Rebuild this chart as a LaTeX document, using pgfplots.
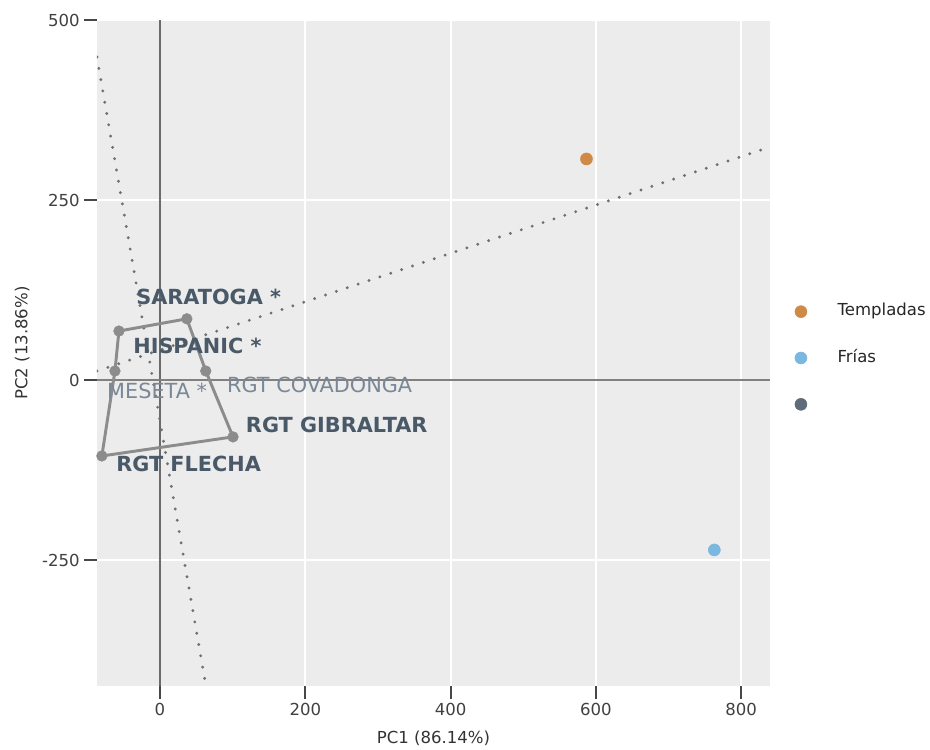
\documentclass[border=0pt]{standalone}
\usepackage{pgfplots}
\pgfplotsset{compat=1.18}
\usepackage{fontspec}
\setmainfont{DejaVu Sans}
\definecolor{bgc}{HTML}{ECECEC}
\definecolor{orangec}{HTML}{D08A48}
\definecolor{bluec}{HTML}{7AB8E0}
\definecolor{hullc}{HTML}{8C8C8C}
\definecolor{darkdot}{HTML}{5F6B78}
\definecolor{lab}{HTML}{4A5968}
\definecolor{lablight}{HTML}{7A8796}
\definecolor{dotc}{HTML}{707070}
\begin{document}
\begin{tikzpicture}
\path[use as bounding box] (-72.75pt,-47.25pt) rectangle (624.75pt,514.5pt);
\begin{axis}[
  at={(0pt,0pt)}, anchor=south west,
  scale only axis, width=504.75pt, height=499.5pt,
  xmin=-86.7, xmax=839.6, ymin=-425, ymax=500,
  axis background/.style={fill=bgc},
  axis line style={draw=none},
  xtick={0,200,400,600,800}, ytick={-250,0,250,500},
  xtick pos=bottom, ytick pos=left,
  tick align=outside, major tick length=9.5pt,
  tick style={draw=black!72, line width=1.5pt},
  grid=major, grid style={white, line width=1.5pt},
  /pgf/number format/assume math mode=true,
  ticklabel style={font=\fontsize{12.4}{14}\selectfont, text=black!75},
  xlabel={PC1 (86.14\%)}, ylabel={PC2 (13.86\%)},
  label style={font=\fontsize{12.4}{14}\selectfont, text=black!80},
  xlabel style={at={(axis description cs:0.5,0)}, anchor=center, yshift=-39pt},
  ylabel style={at={(axis description cs:-0.111,0.515)}, anchor=center},
  legend style={draw=none, fill=none, at={(axis description cs:1,0.4925)}, anchor=west,
    xshift=18.5pt, inner sep=0pt, row sep=18.75pt,
    font=\fontsize{12.4}{14}\selectfont, text=black!85,
    nodes={text height=9pt, text depth=3pt},
    /tikz/every odd column/.append style={column sep=21pt}},
  legend image code/.code={\draw[#1] plot coordinates {(4.5pt,0pt)};},
  legend cell align=left,
]
% zero lines
\addplot[draw=black!58, line width=1.6pt, forget plot] coordinates {(0,-425) (0,500)};
\addplot[draw=black!50, line width=1.6pt, forget plot] coordinates {(-86.7,0) (839.6,0)};
% dotted lines
\addplot[draw=dotc, line width=2.4pt, line cap=round, dash pattern=on 0pt off 8.6pt, forget plot]
  coordinates {(-86.8,448.6) (63.4,-426)};
\addplot[draw=dotc, line width=2.4pt, line cap=round, dash pattern=on 0pt off 8.6pt, forget plot]
  coordinates {(-86.7,12.5) (839.6,323.6)};
% hull
\addplot[draw=hullc, line width=2.2pt, forget plot]
  coordinates {(-56.5,68) (37,85) (63,12.5) (100.5,-79) (-80,-105.5) (-62,12.5) (-56.5,68)};
\addplot[only marks, mark=*, mark size=4pt, draw=hullc, fill=hullc, forget plot]
  coordinates {(-56.5,68) (37,85) (63,12.5) (100.5,-79) (-80,-105.5) (-62,12.5)};
% groups
\addplot[only marks, mark=*, mark size=4.5pt, draw=orangec, fill=orangec] coordinates {(587,307)};
\addlegendentry{Templadas}
\addplot[only marks, mark=*, mark size=4.5pt, draw=bluec, fill=bluec] coordinates {(763,-236)};
\addlegendentry{Frías}
\addlegendimage{only marks, mark=*, mark size=4.5pt, draw=darkdot, fill=darkdot}
\addlegendentry{}
% labels
\node[anchor=west, inner sep=0pt, text=lab, font=\fontsize{15.6}{18}\selectfont\bfseries] at (axis cs:-33,115) {SARATOGA *};
\node[anchor=west, inner sep=0pt, text=lab, font=\fontsize{15.6}{18}\selectfont\bfseries] at (axis cs:-37,47) {HISPANIC *};
\node[anchor=west, inner sep=0pt, text=lablight, font=\fontsize{15.6}{18}\selectfont] at (axis cs:-73,-15) {MESETA *};
\node[anchor=west, inner sep=0pt, text=lablight, font=\fontsize{15.6}{18}\selectfont] at (axis cs:92,-7) {RGT COVADONGA};
\node[anchor=west, inner sep=0pt, text=lab, font=\fontsize{15.6}{18}\selectfont\bfseries] at (axis cs:118,-62.5) {RGT GIBRALTAR};
\node[anchor=west, inner sep=0pt, text=lab, font=\fontsize{15.6}{18}\selectfont\bfseries] at (axis cs:-60.5,-117) {RGT FLECHA};
\end{axis}
\end{tikzpicture}
\end{document}
